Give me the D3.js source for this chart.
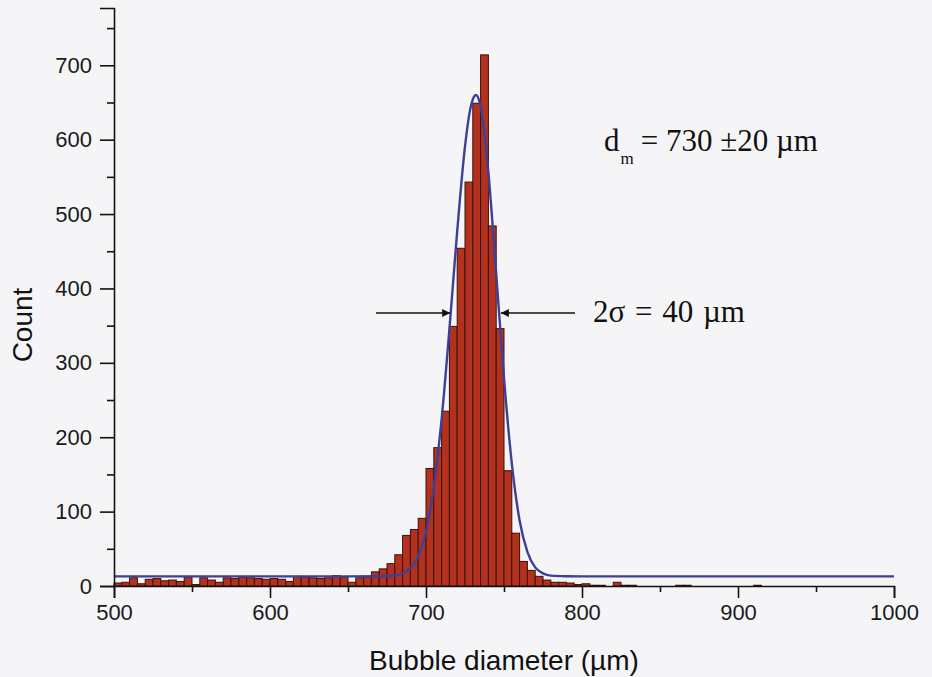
<!DOCTYPE html>
<html>
<head>
<meta charset="utf-8">
<script src="https://cdn.jsdelivr.net/npm/d3@7"></script>
<style>
  body { margin: 0; background: #f5f5f7; }
  svg { display: block; }
</style>
</head>
<body>
<div id="chart"></div>
<script>
// histogram bins (lower edge, um) and counts, width 5 um
const binStarts = d3.range(500, 1000, 5);
const counts = [
  4, 5, 11, 3, 9, 10, 7, 8, 6, 12,
  2, 11, 8, 5, 11, 10, 12, 11, 10, 9,
  10, 9, 6, 13, 12, 11, 10, 11, 14, 12,
  5, 11, 12, 19, 23, 30, 42, 68, 76, 91,
  158, 186, 235, 349, 454, 543, 649, 714, 484, 346,
  155, 71, 33, 21, 13, 8, 5, 5, 4, 2,
  3, 1, 1, 0, 5, 1, 1, 0, 0, 0,
  0, 0, 1, 1, 0, 0, 0, 0, 0, 0,
  0, 0, 1, 0, 0, 0, 0, 0, 0, 0,
  0, 0, 0, 0, 0, 0, 0, 0, 0, 0
];
const binWidth = 5;

// fitted curve
const fitX = [500, 650, 670, 680, 690, 695, 700, 705, 710, 715, 720, 725, 728, 730, 732,
              734, 737, 740, 745, 750, 755, 760, 765, 770, 775, 780, 790, 800, 1000];
const fitY = [13, 13, 13.1, 14.2, 24, 40, 73, 133, 224, 345, 477, 591, 637, 654, 660,
              653, 617, 556, 420, 279, 165, 88, 46, 25, 17, 14, 13.2, 13, 13];

const xTicks = [500, 600, 700, 800, 900, 1000];
const yTicks = [0, 100, 200, 300, 400, 500, 600, 700];

const width = 932, height = 677;
const margin = {top: 8, right: 38, bottom: 91, left: 114};

const svg = d3.select("#chart").append("svg")
    .attr("width", width)
    .attr("height", height);

svg.append("rect").attr("width", width).attr("height", height).attr("fill", "#f5f5f7");

const x = d3.scaleLinear().domain([500, 1000]).range([margin.left, width - margin.right]);
const y = d3.scaleLinear().domain([0, 777]).range([height - margin.bottom, margin.top]);

// bars
const bins = binStarts.map((b, i) => ({x0: b, x1: b + binWidth, n: counts[i]}));
svg.append("g")
  .selectAll("rect")
  .data(bins.filter(d => d.n > 0))
  .join("rect")
    .attr("x", d => x(d.x0))
    .attr("width", d => x(d.x1) - x(d.x0))
    .attr("y", d => y(d.n))
    .attr("height", d => y(0) - y(d.n))
    .attr("fill", "#b3321f")
    .attr("stroke", "#3b1209")
    .attr("stroke-width", 1);

// fit line
const line = d3.line()
    .x(d => x(d[0]))
    .y(d => y(d[1]))
    .curve(d3.curveMonotoneX);

svg.append("path")
    .datum(fitX.map((v, i) => [v, fitY[i]]))
    .attr("d", line)
    .attr("fill", "none")
    .attr("stroke", "#3d3f98")
    .attr("stroke-width", 2.4);

// axes
const font = "'Liberation Sans', Arial, sans-serif";

svg.append("g")
    .attr("transform", `translate(0,${y(0)})`)
    .call(d3.axisBottom(x).tickValues(xTicks).tickSize(12).tickPadding(6).tickFormat(d3.format("d")));
svg.append("g")
    .attr("transform", `translate(0,${y(0)})`)
    .call(d3.axisBottom(x).tickValues(d3.range(550, 1000, 100)).tickSize(6).tickFormat(""))
    .call(g => g.select(".domain").remove());

svg.append("g")
    .attr("transform", `translate(${x(500)},0)`)
    .call(d3.axisLeft(y).tickValues(yTicks).tickSize(14).tickPadding(8));
svg.append("g")
    .attr("transform", `translate(${x(500)},0)`)
    .call(d3.axisLeft(y).tickValues(d3.range(50, 800, 100)).tickSize(7).tickFormat(""))
    .call(g => g.select(".domain").remove());

svg.selectAll(".domain").attr("stroke", "#111").attr("stroke-width", 1.6);
svg.selectAll(".tick line").attr("stroke", "#111").attr("stroke-width", 1.6);
svg.selectAll(".tick text")
    .attr("font-family", font)
    .attr("font-size", 22)
    .attr("fill", "#1a1a1a");

// axis titles
svg.append("text")
    .attr("x", 504).attr("y", 670)
    .attr("text-anchor", "middle")
    .attr("font-family", font).attr("font-size", 28).attr("fill", "#111")
    .text("Bubble diameter (\u00b5m)");

svg.append("text")
    .attr("transform", "translate(32,325) rotate(-90)")
    .attr("text-anchor", "middle")
    .attr("font-family", font).attr("font-size", 28).attr("fill", "#111")
    .text("Count");

// annotations
const serif = "'Liberation Serif', 'Times New Roman', serif";
const ann = svg.append("text")
    .attr("x", 604).attr("y", 151)
    .attr("font-family", serif).attr("font-size", 31).attr("fill", "#111");
ann.append("tspan").text("d");
ann.append("tspan").attr("font-size", 17).attr("dy", 13).attr("dx", 1).text("m");
ann.append("tspan").attr("dy", -13).attr("dx", 7).text("= 730 \u00b120 \u00b5m");

svg.append("text")
    .attr("x", 593).attr("y", 322)
    .attr("font-family", serif).attr("font-size", 31).attr("fill", "#111")
    .attr("word-spacing", 2)
    .text("2\u03c3 = 40 \u00b5m");

// FWHM arrows
const defs = svg.append("defs");
defs.append("marker")
    .attr("id", "arrow")
    .attr("viewBox", "0 0 10 10")
    .attr("refX", 10).attr("refY", 5)
    .attr("markerWidth", 13).attr("markerHeight", 8)
    .attr("markerUnits", "userSpaceOnUse")
    .attr("orient", "auto")
  .append("path")
    .attr("d", "M0,0 L10,5 L0,10 Z")
    .attr("fill", "#111");

const arrowY = 313;
svg.append("line")
    .attr("x1", 376).attr("x2", x(715.5)).attr("y1", arrowY).attr("y2", arrowY)
    .attr("stroke", "#111").attr("stroke-width", 1.3)
    .attr("marker-end", "url(#arrow)");
svg.append("line")
    .attr("x1", 575).attr("x2", x(748)).attr("y1", arrowY).attr("y2", arrowY)
    .attr("stroke", "#111").attr("stroke-width", 1.3)
    .attr("marker-end", "url(#arrow)");
</script>
</body>
</html>
